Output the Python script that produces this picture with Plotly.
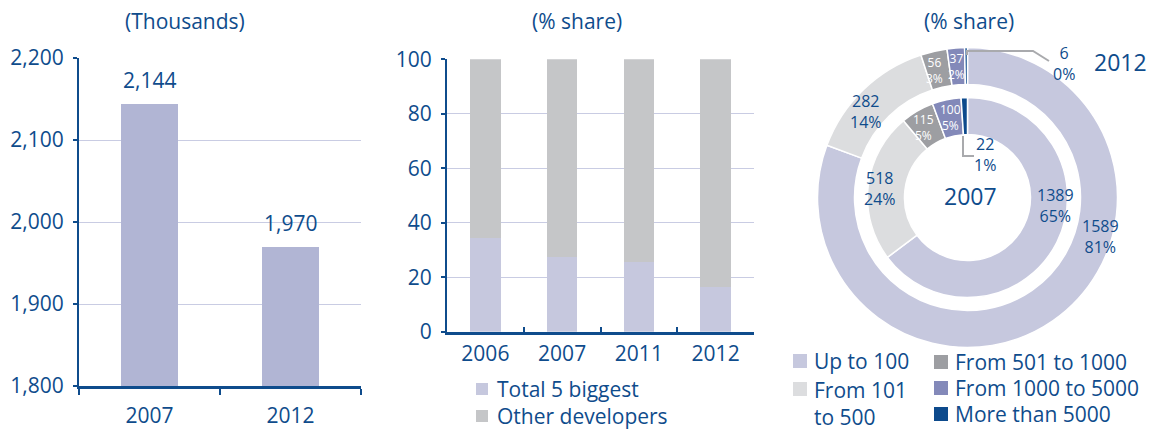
import plotly.graph_objects as go

W, H = 1150, 439

# ---------------- data ----------------
dwell_years = ["2007", "2012"]
dwellings = [2144, 1970]
dwell_ticks = [1800, 1900, 2000, 2100, 2200]

share_years = ["2006", "2007", "2011", "2012"]
top5_share = [34.4, 27.3, 25.7, 16.3]
other_share = [65.6, 72.7, 74.3, 83.7]
share_ticks = [0, 20, 40, 60, 80, 100]

size_labels = ["Up to 100", "From 101 to 500", "From 501 to 1000",
               "From 1000 to 5000", "More than 5000"]
legend_text = ["Up to 100", "From 101<br>to 500", "From 501 to 1000",
               "From 1000 to 5000", "More than 5000"]
devs_2007 = [1389, 518, 115, 100, 22]
devs_2012 = [1589, 282, 56, 37, 6]

# ---------------- styles ----------------
DARK = "#0f4c8c"
GRID = "#c9cce3"
FONT = "Open Sans"
FS = 21
BAR1 = "#b1b5d4"
TOP5 = "#c6c8de"
OTHER = "#c5c6c8"
PIE_COLORS = ["#c6c8de", "#dcdddf", "#9d9ea2", "#8389b9", "#0d4a8c"]
LEAD = "#a9aaad"


def px(x):
    return x / W


def py(y):
    return 1 - y / H


fig = go.Figure()

# Panel 1
fig.add_trace(go.Bar(x=dwell_years, y=dwellings, marker=dict(color=BAR1, line=dict(width=0)),
                     width=0.4, xaxis="x", yaxis="y", showlegend=False))
# Panel 2
fig.add_trace(go.Bar(x=share_years, y=top5_share, name="Total 5 biggest",
                     marker=dict(color=TOP5, line=dict(width=0)), width=0.4,
                     xaxis="x2", yaxis="y2", showlegend=False))
fig.add_trace(go.Bar(x=share_years, y=other_share, name="Other developers",
                     marker=dict(color=OTHER, line=dict(width=0)), width=0.4,
                     xaxis="x2", yaxis="y2", showlegend=False))

# Panel 3 donuts
CX, CY = 967.5, 197.5
R_OUT, R_OUT_IN = 150, 113
R_IN, R_IN_IN = 100, 63
fig.add_trace(go.Pie(labels=size_labels, values=devs_2012, sort=False, direction="clockwise",
                     rotation=0, hole=R_OUT_IN / R_OUT, textinfo="none", showlegend=False,
                     marker=dict(colors=PIE_COLORS, line=dict(color="white", width=1.5)),
                     domain=dict(x=[px(CX - R_OUT), px(CX + R_OUT)],
                                 y=[py(CY + R_OUT), py(CY - R_OUT)])))
fig.add_trace(go.Pie(labels=size_labels, values=devs_2007, sort=False, direction="clockwise",
                     rotation=0, hole=R_IN_IN / R_IN, textinfo="none", showlegend=False,
                     marker=dict(colors=PIE_COLORS, line=dict(color="white", width=1.5)),
                     domain=dict(x=[px(CX - R_IN), px(CX + R_IN)],
                                 y=[py(CY + R_IN), py(CY - R_IN)])))

axis_common = dict(showline=True, linecolor=DARK, tickcolor=DARK, zeroline=False,
                   automargin=False,
                   tickfont=dict(family=FONT, size=FS, color=DARK), fixedrange=True)

fig.update_layout(
    width=W, height=H, margin=dict(l=0, r=0, t=0, b=0, autoexpand=False),
    paper_bgcolor="white", plot_bgcolor="white", barmode="stack", showlegend=False,
    font=dict(family=FONT, color=DARK),
    xaxis=dict(domain=[px(79), px(361)], anchor="y", type="category", range=[-0.5, 1.5],
               linewidth=3, ticks="outside", tickson="boundaries", ticklen=6, tickwidth=2,
               showgrid=False, ticklabelstandoff=9, **axis_common),
    yaxis=dict(domain=[py(386), py(58)], anchor="x", range=[1800, 2200],
               tickvals=dwell_ticks, tickformat=",", linewidth=2, ticks="outside",
               ticklen=4, tickwidth=2, showgrid=True, gridcolor=GRID, gridwidth=1.2,
               ticklabelstandoff=5, **axis_common),
    xaxis2=dict(domain=[px(447), px(754)], anchor="y2", type="category", range=[-0.5, 3.5],
                linewidth=3, ticks="inside", tickson="boundaries", ticklen=5, tickwidth=1.5,
                showgrid=False, ticklabelstandoff=1, **axis_common),
    yaxis2=dict(domain=[py(331.7), py(59.3)], anchor="x2", range=[0, 100],
                tickvals=share_ticks, linewidth=2, ticks="outside", ticklen=4, tickwidth=2,
                showgrid=True, gridcolor=GRID, gridwidth=1.2, ticklabelstandoff=5,
                **axis_common),
)

ann = []
shapes = []


def text(x, y, t, size, color=DARK, xanchor="center"):
    ann.append(dict(x=px(x), y=py(y), xref="paper", yref="paper", text=t, showarrow=False,
                    xanchor=xanchor, yanchor="middle", align="left" if xanchor == "left" else "center",
                    font=dict(family=FONT, size=size, color=color)))


# panel titles
text(185, 21, "(Thousands)", FS)
text(577, 21, "(% share)", FS)
text(969, 21, "(% share)", FS)

# bar value labels (panel 1)
for i, v in enumerate(dwellings):
    ann.append(dict(x=i, y=v, xref="x", yref="y", text=f"{v:,}", showarrow=False,
                    yanchor="bottom", yshift=8, font=dict(family=FONT, size=FS, color=DARK)))

# donut labels
def pct(v, tot):
    return f"{round(100 * v / tot)}%"


tot12 = sum(devs_2012)
tot07 = sum(devs_2007)
outer_pos = [(1100, 236), (866, 111), (934, 70), (956, 67), (1064, 64)]
inner_pos = [(1055, 205), (880, 188), (923, 127), (950, 118), (985, 154)]
lab_colors = [DARK, DARK, "white", "white", DARK]
lab_sizes = [16, 16, 12, 12, 16]
for vals, tot, pos in ((devs_2012, tot12, outer_pos), (devs_2007, tot07, inner_pos)):
    for i, v in enumerate(vals):
        x, y = pos[i]
        text(x, y, f"{v}<br>{pct(v, tot)}", lab_sizes[i], lab_colors[i])

text(970, 196, "2007", 23)
text(1120, 62, "2012", 23)


def path(pts):
    d = "M " + " L ".join(f"{px(a):.5f},{py(b):.5f}" for a, b in pts)
    shapes.append(dict(type="path", path=d, xref="paper", yref="paper",
                       line=dict(color=LEAD, width=2)))


path([(967, 55), (967, 51), (1033, 51), (1049, 61)])
path([(963, 136), (963, 156), (974, 156)])

# legends (panel 2)
def square(x0, yc, s, color):
    shapes.append(dict(type="rect", xref="paper", yref="paper", x0=px(x0), x1=px(x0 + s),
                       y0=py(yc + s / 2), y1=py(yc - s / 2), fillcolor=color,
                       line=dict(width=0)))


square(476, 389, 12, TOP5)
text(495, 389, "Total 5 biggest", FS, xanchor="left")
square(476, 416, 12, OTHER)
text(495, 416, "Other developers", FS, xanchor="left")

# legend (panel 3)
leg_pos = [(793, 361), (793, 389), (934, 362), (934, 388), (934, 414)]
for i, (x, y) in enumerate(leg_pos):
    square(x, y, 14, PIE_COLORS[i])
    yc = y + 14 if "<br>" in legend_text[i] else y
    text(x + 19, yc, legend_text[i], FS, xanchor="left")

fig.update_layout(annotations=ann, shapes=shapes)
fig.write_html("out.html", config={"displayModeBar": False},
               post_script="document.body.style.margin='0';document.body.style.overflow='hidden';")
